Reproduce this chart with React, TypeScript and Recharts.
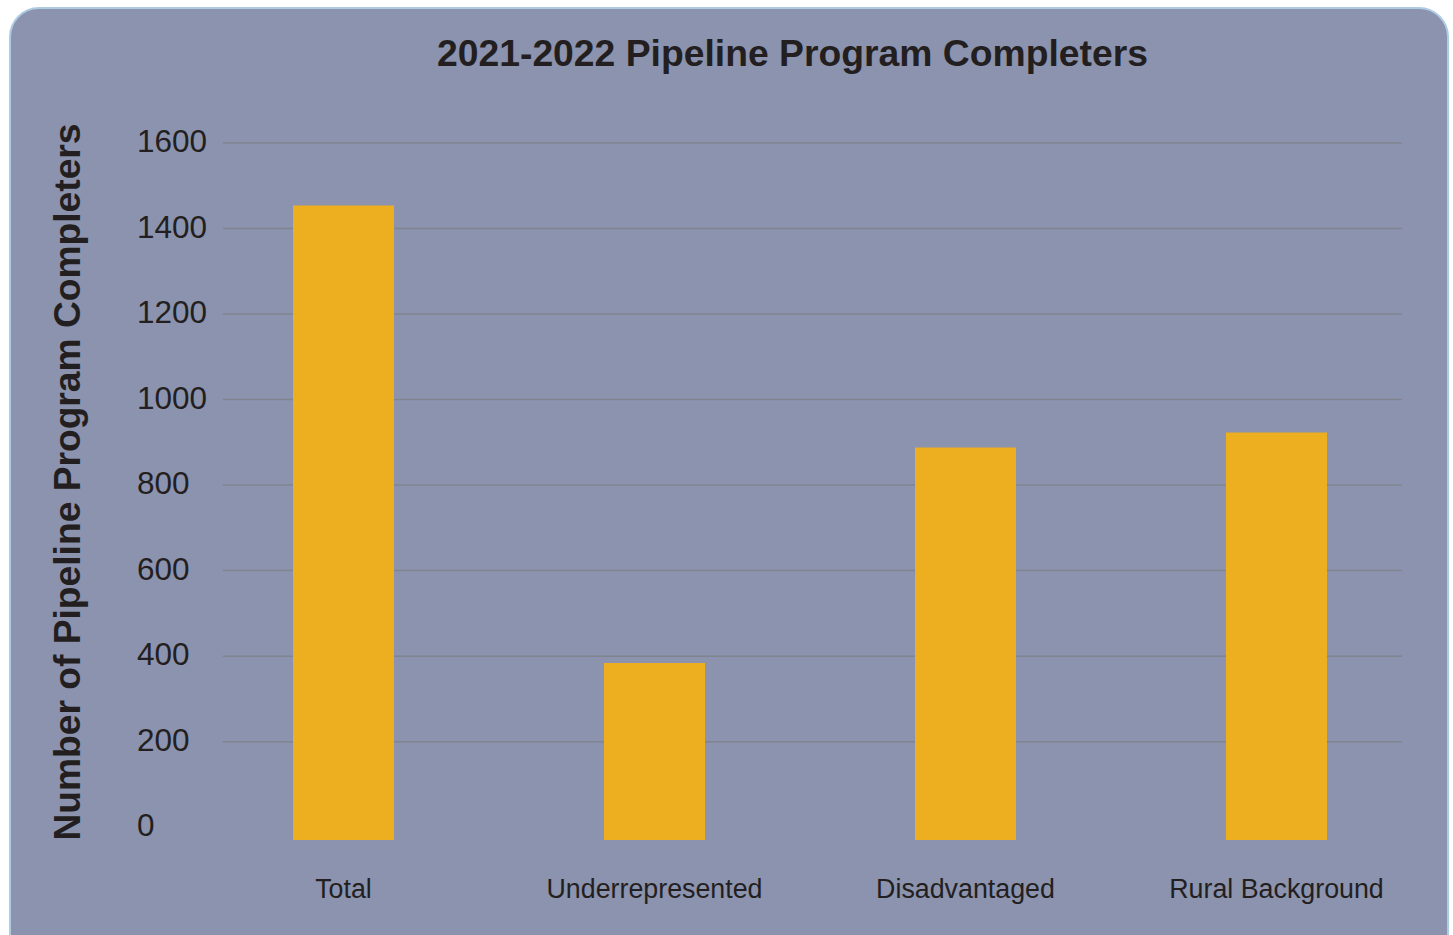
import React from 'react'
import { BarChart, Bar, XAxis, YAxis, CartesianGrid } from 'recharts'

const categories = ['Total', 'Underrepresented', 'Disadvantaged', 'Rural Background']
const completers = [1454, 384, 888, 923]
const yTicks = [0, 200, 400, 600, 800, 1000, 1200, 1400, 1600]
// bars in the original run a little below the 0 label, down to the axis line
const barFloor = -30

const data = categories.map((name, i) => ({ name, range: [barFloor, completers[i]] }))

const FONT = '"Liberation Sans", Arial, Helvetica, sans-serif'
const INK = '#231f20'

function YTick({ y, payload }: any) {
  return (
    <text x={137} y={y} dy={-2} dominantBaseline="central" textAnchor="start" fontSize={31.5} fill={INK} fontFamily={FONT}>
      {payload.value}
    </text>
  )
}

function XTick({ x, y, payload }: any) {
  return (
    <text x={x} y={y} dy={41} dominantBaseline="central" textAnchor="middle" fontSize={26.8} fill={INK} fontFamily={FONT}>
      {payload.value}
    </text>
  )
}

export default function App() {
  return (
    <div style={{ position: 'fixed', left: 0, top: 0, width: 1453, height: 935, overflow: 'hidden', background: '#fff', fontFamily: FONT }}>
      <div
        style={{
          position: 'absolute',
          left: 9,
          top: 7,
          width: 1436,
          height: 980,
          borderRadius: 30,
          background: '#8b93af',
          border: '2px solid #aecbe2',
        }}
      />
      <div
        style={{
          position: 'absolute',
          left: 0,
          width: 1585,
          top: 31,
          textAlign: 'center',
          fontSize: 37.3,
          fontWeight: 'bold',
          color: INK,
          lineHeight: '44px',
        }}
      >
        2021-2022 Pipeline Program Completers
      </div>
      <div
        style={{
          position: 'absolute',
          left: 67 - 400,
          top: 482 - 22,
          width: 800,
          height: 44,
          lineHeight: '44px',
          textAlign: 'center',
          transform: 'rotate(-90deg)',
          fontSize: 37.2,
          fontWeight: 'bold',
          color: INK,
          whiteSpace: 'nowrap',
        }}
      >
        Number of Pipeline Program Completers
      </div>
      <div style={{ position: 'absolute', left: 0, top: 0 }}>
        <BarChart width={1453} height={935} data={data} margin={{ top: 143, right: 51, left: 137, bottom: 35 }}>
          <CartesianGrid vertical={false} horizontalValues={yTicks.slice(1)} stroke="#80848f" strokeWidth={1.5} />
          <XAxis
            dataKey="name"
            height={60}
            axisLine={false}
            tickLine={false}
            tick={<XTick />}
            interval={0}
            padding={{ left: -35, right: -30 }}
          />
          <YAxis
            width={86}
            domain={[barFloor, 1600]}
            ticks={yTicks}
            axisLine={false}
            tickLine={false}
            tick={<YTick />}
            allowDataOverflow
          />
          <Bar dataKey="range" fill="#edae1f" barSize={101} isAnimationActive={false} />
        </BarChart>
      </div>
    </div>
  )
}
